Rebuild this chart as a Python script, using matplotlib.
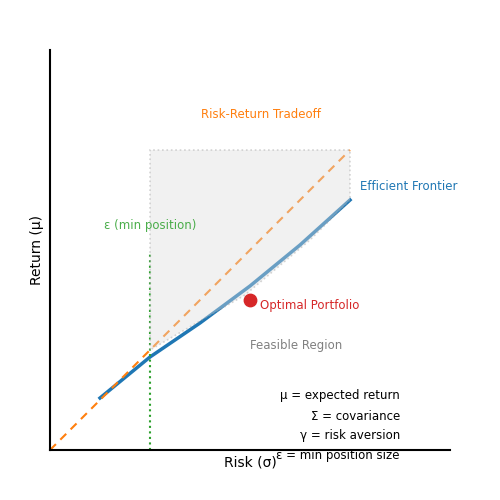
import matplotlib
matplotlib.use("Agg")
import matplotlib.pyplot as plt

frontier_x = [0.5, 1.0, 1.5, 2.0, 2.5, 3.0]
frontier_y = [0.52, 0.93, 1.27, 1.64, 2.05, 2.5]
region_x = [1.0, 1.0, 3.0, 3.0, 2.6, 1.95, 1.0]
region_y = [1.0, 3.0, 3.0, 2.5, 2.1, 1.55, 1.0]
tradeoff_x = [0.0, 3.0]
tradeoff_y = [0.0, 3.0]
eps_x = 1.0
eps_top = 1.98
optimal = (2.0, 1.5)
legend_lines = ["μ = expected return", "Σ = covariance", "γ = risk aversion", "ε = min position size"]

fig = plt.figure(figsize=(5, 5), dpi=100)
ax = fig.add_axes([0.1, 0.1, 0.8, 0.8])
ax.set_xlim(0, 4)
ax.set_ylim(0, 4)

ax.plot(frontier_x, frontier_y, color="#1f77b4", lw=2.5, zorder=2)
ax.plot(tradeoff_x, tradeoff_y, color="#ff7f0e", ls=(0, (4, 3)), lw=1.5, zorder=2)
ax.plot([eps_x, eps_x], [0, eps_top], color="#2ca02c", ls=":", lw=1.5, zorder=2)
ax.fill(region_x, region_y, facecolor="#dddddd", alpha=0.4, edgecolor="#999999",
        ls=":", lw=1.2, zorder=3)
ax.scatter([optimal[0]], [optimal[1]], s=80, color="#d62728", zorder=4)

ax.text(2.11, 3.35, "Risk-Return Tradeoff", color="#ff7f0e", fontsize=8.5, ha="center", va="center")
ax.text(3.1, 2.64, "Efficient Frontier", color="#1f77b4", fontsize=8.5, ha="left", va="center")
ax.text(1.0, 2.24, "ε (min position)", color="#2ca02c", fontsize=8.5, ha="center", va="center", alpha=0.85)
ax.text(2.1, 1.44, "Optimal Portfolio", color="#d62728", fontsize=8.5, ha="left", va="center")
ax.text(2.46, 1.04, "Feasible Region", color="gray", fontsize=8.5, ha="center", va="center")
for i, line in enumerate(legend_lines):
    ax.text(3.5, 0.54 - 0.2 * i, line, fontsize=8.5, ha="right", va="center")

ax.set_xlabel("Risk (σ)", fontsize=10)
ax.set_ylabel("Return (μ)", fontsize=10)
ax.set_xticks([])
ax.set_yticks([])
ax.spines["top"].set_visible(False)
ax.spines["right"].set_visible(False)
ax.spines["left"].set_linewidth(1.5)
ax.spines["bottom"].set_linewidth(1.5)

fig.savefig("out.png", dpi=100)
